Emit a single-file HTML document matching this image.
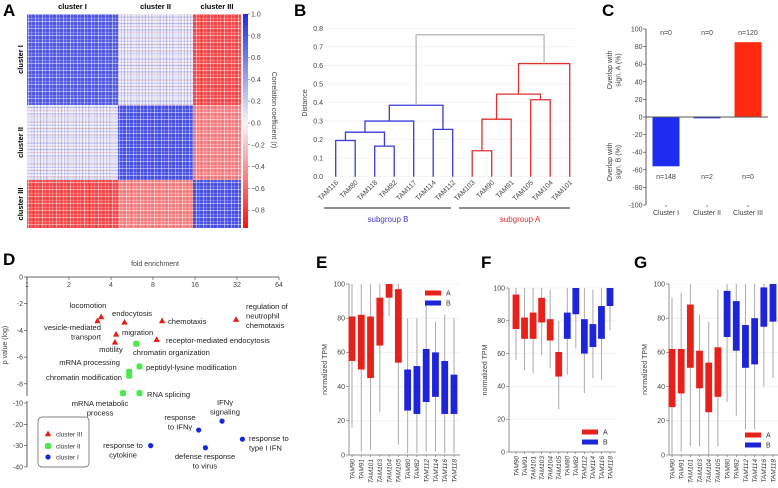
<!DOCTYPE html>
<html><head><meta charset="utf-8">
<style>
html,body{margin:0;padding:0;background:#fff;}
svg{display:block;font-family:"Liberation Sans",Arial,sans-serif;}
.t{font-size:7px;fill:#444;}
.pl{font-size:17px;font-weight:bold;fill:#000;}
</style></head>
<body>
<svg id="fig" width="778" height="488" viewBox="0 0 778 488" xmlns="http://www.w3.org/2000/svg">
<defs>
<pattern id="grid" width="7" height="7" patternUnits="userSpaceOnUse">
<rect x="0" y="0" width="1" height="7" fill="#fff" opacity="0.45"/>
<rect x="3" y="0" width="1" height="7" fill="#fff" opacity="0.2"/>
<rect x="5" y="0" width="1" height="7" fill="#000" opacity="0.06"/>
<rect x="0" y="0" width="7" height="1" fill="#fff" opacity="0.45"/>
<rect x="0" y="4" width="7" height="1" fill="#fff" opacity="0.2"/>
<rect x="0" y="2" width="7" height="1" fill="#000" opacity="0.06"/>
</pattern>
<pattern id="mix" width="6" height="6" patternUnits="userSpaceOnUse">
<rect x="1" y="0" width="1" height="6" fill="#f08080" opacity="0.35"/>
<rect x="4" y="0" width="1" height="6" fill="#8080f0" opacity="0.35"/>
<rect x="0" y="2" width="6" height="1" fill="#f08080" opacity="0.3"/>
<rect x="0" y="5" width="6" height="1" fill="#8080f0" opacity="0.3"/>
</pattern>
<linearGradient id="cbar" x1="0" y1="0" x2="0" y2="1">
<stop offset="0" stop-color="#1f2be6"/><stop offset="0.51" stop-color="#f4f4f8"/><stop offset="1" stop-color="#ff1010"/>
</linearGradient>
</defs>
</svg>
<script>
// ---------- data ----------
const clusterNames = ['cluster I','cluster II','cluster III'];
const clusterSizes = [91, 75, 48];
const blockCorr = [[0.75,0.05,-0.75],[0.05,0.8,-0.5],[-0.75,-0.5,0.8]];
const cbTicks = [1.0,0.8,0.6,0.4,0.2,0.0,-0.2,-0.4,-0.6,-0.8];

const leaves = ['TAM116','TAM80','TAM118','TAM82','TAM117','TAM114','TAM112','TAM103','TAM90','TAM91','TAM105','TAM104','TAM101'];
const mergeLeft  = [0,2,13,15,5,16,7,19,10,20,22,18];
const mergeRight = [1,3,14,4,6,17,8,9,11,21,12,23];
const mergeHeight= [0.195,0.165,0.24,0.30,0.255,0.385,0.14,0.31,0.415,0.445,0.61,0.765];
const mergeGroup = ['B','B','B','B','B','B','A','A','A','A','A','R'];
const distTicks = [0,0.1,0.2,0.3,0.4,0.5,0.6,0.7,0.8];

const cCats = ['Cluster I','Cluster II','Cluster III'];
const cVals = [-56,-1.5,85];
const cNTop = ['n=0','n=0','n=120'];
const cNBot = ['n=148','n=2','n=0'];
const cTicks = [100,80,60,40,20,0,-20,-40,-60,-80,-100];

const dTerms = ['locomotion','vesicle-mediated transport','endocytosis','chemotaxis','regulation of neutrophil chemotaxis','migration','motility','receptor-mediated endocytosis','chromatin organization','peptidyl-lysine modification','mRNA processing','chromatin modification','mRNA metabolic process','RNA splicing','response to cytokine','response to IFNγ','IFNγ signaling','defense response to virus','response to type I IFN'];
const dFold = [3.4,3.2,5.0,9.3,31.5,4.35,4.27,8.5,6.06,6.4,5.4,5.4,4.88,6.4,7.7,17,25,19,35];
const dP = [-3.0,-3.3,-3.4,-3.3,-3.2,-4.3,-4.9,-4.7,-5.0,-6.7,-7.1,-7.4,-8.7,-8.7,-30,-22.7,-18.5,-31,-27];
const dCluster = [3,3,3,3,3,3,3,3,2,2,2,2,2,2,1,1,1,1,1];
const dXTicks = [1,2,4,8,16,32,64];
const dYTicksUp = [0,-2,-4,-6,-8];
const dYTicksLo = [-10,-20,-30,-40];

const boxSamples = ['TAM90','TAM91','TAM101','TAM103','TAM104','TAM105','TAM80','TAM82','TAM112','TAM114','TAM116','TAM118'];
const boxGroup = ['A','A','A','A','A','A','B','B','B','B','B','B'];
const eMin=[16,2,3,25,81,6,1,1,2,2,1,1], eQ1=[55,50,45,64,92,54,26,24,31,34,24,24], eQ3=[81,82,81,92,100,97,50,52,62,60,55,47], eMax=[100,100,100,100,100,100,80,80,90,78,82,80];
const fMin=[56,50,48,59,51,26,47,63,36,45,44,74], fQ1=[75,69,69,79,68,46,69,84,60,64,69,89], fQ3=[96,82,85,94,81,61,85,100,81,78,89,100], fMax=[100,100,100,100,99,80,100,100,100,99,100,100];
const gMin=[0,2,5,5,0,5,31,23,15,15,40,45], gQ1=[28,36,51,39,25,34,69,61,51,53,75,78], gQ3=[62,62,88,61,54,63,96,90,76,80,98,100], gMax=[92,95,100,82,78,97,100,100,100,100,100,100];
const tpmTicks=[0,20,40,60,80,100];

// ---------- helpers ----------
const svg=document.getElementById('fig');
const NS='http://www.w3.org/2000/svg';
function mk(tag,attrs,parent,text){
  const e=document.createElementNS(NS,tag);
  for(const k in attrs) e.setAttribute(k,attrs[k]);
  if(text!==undefined) e.textContent=text;
  (parent||svg).appendChild(e); return e;
}
function grp(name){const g=mk('g',{});
  
  
  return g;}
const RED='#e8201a', BLUE='#1e24d8';

function corrColor(v){
  const w=[244,244,248];
  let c = v>=0 ? [31,43,230] : [255,16,16];
  const t=Math.min(1,Math.abs(v));
  return 'rgb('+c.map((x,i)=>Math.round(w[i]+(x-w[i])*t)).join(',')+')';
}

// ---------- panel A ----------
(function(){
  const g=grp('panel-a-heatmap');
  mk('text',{x:3,y:16,class:'pl'},g,'A');
  const x0=27,y0=14,W=214,H=214,tot=clusterSizes.reduce((a,b)=>a+b,0);
  const off=[0];clusterSizes.forEach((s,i)=>off.push(off[i]+s));
  for(let i=0;i<3;i++)for(let j=0;j<3;j++){
    const bx=x0+off[j]/tot*W, by=y0+off[i]/tot*H, bw=clusterSizes[j]/tot*W, bh=clusterSizes[i]/tot*H;
    const r=mk('rect',{x:bx,y:by,width:bw,height:bh,fill:corrColor(blockCorr[i][j])},g);
    
    
    if(Math.abs(blockCorr[i][j])<0.2) mk('rect',{x:bx,y:by,width:bw,height:bh,fill:'url(#mix)'},g);
  }
  mk('rect',{x:x0,y:y0,width:W,height:H,fill:'url(#grid)'},g);
  for(let i=0;i<3;i++){
    const cx=x0+(off[i]+clusterSizes[i]/2)/tot*W;
    const t=mk('text',{x:cx,y:9,'text-anchor':'middle','font-size':'7.5','font-weight':'bold'},g,clusterNames[i]);
    
    
    const cy=y0+(off[i]+clusterSizes[i]/2)/tot*H;
    const t2=mk('text',{x:0,y:0,'text-anchor':'middle','font-size':'7.5','font-weight':'bold',transform:'translate(23,'+cy+') rotate(-90)'},g,clusterNames[i]);
    
    
  }
  const cb=mk('rect',{x:243,y:14,width:5,height:214,fill:'url(#cbar)'},g);
  
  
  const cy=v=>123-v*109;
  cbTicks.forEach(v=>{
    mk('line',{x1:248,x2:250,y1:cy(v),y2:cy(v),stroke:'#555','stroke-width':0.5},g);
    const t=mk('text',{x:251,y:cy(v)+2.5,class:'t'},g,(v<0?'−':'')+Math.abs(v).toFixed(1));
    
    
  });
  const tl=mk('text',{x:0,y:0,'text-anchor':'middle',class:'t','font-size':'7.5',transform:'translate(272,110) rotate(90)'},g,'Correlation coefficient (r)');
  
  
})();

// ---------- panel B ----------
(function(){
  const g=grp('panel-b-dendrogram');
  mk('text',{x:294,y:16,class:'pl'},g,'B');
  const yv=v=>176.7-v*185.5, xl=i=>335.7+i*19.5;
  distTicks.forEach(v=>{
    mk('line',{x1:325,x2:575,y1:yv(v),y2:yv(v),stroke:'#eee','stroke-width':0.6},g);
    const t=mk('text',{x:323,y:yv(v)+2.5,'text-anchor':'end',class:'t'},g,v.toFixed(1));
    
    
  });
  const yl=mk('text',{x:0,y:0,'text-anchor':'middle',class:'t',transform:'translate(307,103) rotate(-90)'},g,'Distance');
  
  
  const nx=[],nh=[];
  leaves.forEach((n,i)=>{nx.push(xl(i));nh.push(0);
    const t=mk('text',{x:0,y:0,'text-anchor':'end',class:'t','font-size':'7.5',transform:'translate('+(xl(i)+3)+',183) rotate(-45)'},g,n);
    
    
  });
  mergeLeft.forEach((l,k)=>{
    const r=mergeRight[k],h=mergeHeight[k];
    const col=mergeGroup[k]==='A'?'#e03030':mergeGroup[k]==='B'?'#3a3ad8':'#b8b8b8';
    const p=mk('path',{d:'M'+nx[l]+','+yv(nh[l])+'V'+yv(h)+'H'+nx[r]+'V'+yv(nh[r]),fill:'none',stroke:col,'stroke-width':1.3},g);
    
    
    nx.push((nx[l]+nx[r])/2);nh.push(h);
  });
  mk('line',{x1:324,x2:451,y1:208,y2:208,stroke:'#222','stroke-width':1},g);
  mk('line',{x1:459,x2:570,y1:208,y2:208,stroke:'#222','stroke-width':1},g);
  const sb=mk('text',{x:388,y:222,'text-anchor':'middle','font-size':'8',fill:'#3a3ad8'},g,'subgroup B');
  
  
  const sa=mk('text',{x:520,y:222,'text-anchor':'middle','font-size':'8',fill:'#e03030'},g,'subgroup A');
  
  
})();

// ---------- panel C ----------
(function(){
  const g=grp('panel-c-bars');
  mk('text',{x:602,y:16,class:'pl'},g,'C');
  const AX=646;
  const yv=v=>117-v*0.88, cx=i=>666+i*41;
  mk('line',{x1:AX,x2:AX,y1:29,y2:205,stroke:'#333','stroke-width':0.8},g);
  cTicks.forEach(v=>{
    mk('line',{x1:AX-3,x2:AX,y1:yv(v),y2:yv(v),stroke:'#333','stroke-width':0.6},g);
    const t=mk('text',{x:AX-3.5,y:yv(v)+2.5,'text-anchor':'end',class:'t'},g,v);
    
    
  });
  cVals.forEach((v,i)=>{
    const b=mk('rect',{x:cx(i)-13.5,y:Math.min(yv(v),yv(0)),width:27,height:Math.abs(yv(v)-yv(0)),fill:v<0?'#1e2cf0':'#ff2a10'},g);
    
    
    const t=mk('text',{x:cx(i),y:215,'text-anchor':'middle',class:'t','font-size':'7.5'},g,cCats[i]);
    
    
    mk('line',{x1:cx(i),x2:cx(i),y1:205,y2:207,stroke:'#333','stroke-width':0.6},g);
    const a=mk('text',{x:cx(i),y:35,'text-anchor':'middle',class:'t'},g,cNTop[i]);
    
    
    const bb=mk('text',{x:cx(i),y:179,'text-anchor':'middle',class:'t'},g,cNBot[i]);
    
    
  });
  mk('line',{x1:AX,x2:768,y1:yv(0),y2:yv(0),stroke:'#555','stroke-width':1},g);
  [['Overlap with','sign. A (%)',70],['Overlap with','sign. B (%)',162]].forEach(l=>{
    const t=mk('text',{x:0,y:0,'text-anchor':'middle',class:'t','font-size':'7.5',transform:'translate(612,'+l[2]+') rotate(-90)'},g);
    
    
    mk('tspan',{x:0,dy:0},t,l[0]);mk('tspan',{x:0,dy:8.5},t,l[1]);
  });
})();

// ---------- panel D ----------
(function(){
  const g=grp('panel-d-scatter');
  mk('text',{x:3,y:265,class:'pl'},g,'D');
  const xv=f=>27+42*Math.log2(f);
  const yf=p=>p>-9.5?277+13.35*(-p):403+(-p-10)*2.13;
  const xt=mk('text',{x:155,y:266,'text-anchor':'middle',class:'t','font-size':'7.5'},g,'fold enrichment');
  
  
  mk('line',{x1:27,x2:279,y1:277,y2:277,stroke:'#333','stroke-width':0.8},g);
  dXTicks.forEach(f=>{
    mk('line',{x1:xv(f),x2:xv(f),y1:277,y2:280,stroke:'#333','stroke-width':0.6},g);
    const t=mk('text',{x:xv(f),y:287,'text-anchor':'middle',class:'t'},g,f);
    
    
  });
  mk('line',{x1:27,x2:27,y1:277,y2:396,stroke:'#333','stroke-width':0.8},g);
  mk('line',{x1:27,x2:27,y1:401,y2:467,stroke:'#333','stroke-width':0.8},g);
  dYTicksUp.concat(dYTicksLo).forEach(v=>{
    mk('line',{x1:24,x2:27,y1:yf(v),y2:yf(v),stroke:'#333','stroke-width':0.6},g);
    const t=mk('text',{x:23,y:yf(v)+2.5,'text-anchor':'end',class:'t'},g,v);
    
    
  });
  const yl=mk('text',{x:0,y:0,'text-anchor':'middle',class:'t','font-size':'7.5',transform:'translate(7,345) rotate(-90)'},g,'p value (log)');
  
  
  function marker(c,x,y,parent){
    if(c===3) return mk('path',{d:'M'+x+','+(y-3.5)+'L'+(x+3.2)+','+(y+2.2)+'L'+(x-3.2)+','+(y+2.2)+'Z',fill:'#e82010'},parent);
    if(c===2) return mk('rect',{x:x-3,y:y-3,width:6,height:6,rx:2,fill:'#4de84d'},parent);
    return mk('circle',{cx:x,cy:y,r:2.6,fill:'#1428e0'},parent);
  }
  dFold.forEach((f,i)=>{
    const m=marker(dCluster[i],xv(f),yf(dP[i]),g);
    
    
  });
  const ann=[
    [['locomotion'],88,308,'middle'],
    [['vesicle-mediated','transport'],101,330,'end'],
    [['endocytosis'],112,316,'start'],
    [['chemotaxis'],168,324,'start'],
    [['regulation of','neutrophil','chemotaxis'],246,309,'start'],
    [['migration'],122,335,'start'],
    [['motility'],111,352,'middle'],
    [['receptor-mediated endocytosis'],166,343,'start'],
    [['chromatin organization'],133,355,'start'],
    [['mRNA processing'],120,365,'end'],
    [['peptidyl-lysine modification'],146,370,'start'],
    [['chromatin modification'],122,380,'end'],
    [['RNA splicing'],147,397,'start'],
    [['mRNA metabolic','process'],100,406,'middle'],
    [['IFNγ','signaling'],225,405,'middle'],
    [['response','to IFNγ'],180,420,'middle'],
    [['response to','cytokine'],123,448,'middle'],
    [['defense response','to virus'],205,459,'middle'],
    [['response to','type I IFN'],249,441,'start']
  ];
  ann.forEach(a=>{
    const t=mk('text',{x:a[1],y:a[2],'text-anchor':a[3],'font-size':'7.6',fill:'#222'},g);
    
    
    a[0].forEach((s,k)=>mk('tspan',{x:a[1],dy:k?9.5:0},t,s));
  });
  const lg=grp('legend-d');g.appendChild(lg);
  mk('rect',{x:38,y:417,width:51,height:50,rx:4,fill:'#fff',stroke:'#555','stroke-width':0.7},lg);
  [[3,'cluster III',434],[2,'cluster II',446],[1,'cluster I',457]].forEach(e=>{
    marker(e[0],48,e[2],lg);
    const t=mk('text',{x:56,y:e[2]+2.5,'font-size':'6.5',fill:'#333'},lg,e[1]);
    
    
  });
})();

// ---------- panels E,F,G ----------
function boxPanel(letter,lx,ax,y100,y0,c0,c1,mn,q1,q3,mx,legX,legY){
  const g=grp('panel-'+letter.toLowerCase()+'-boxplot');
  mk('text',{x:lx,y:268,class:'pl'},g,letter);
  const yv=v=>y0-(y0-y100)*v/100;
  const xc=i=>c0+(c1-c0)*i/(boxSamples.length-1);
  tpmTicks.forEach(v=>{
    if(v>0) mk('line',{x1:ax,x2:c1+6,y1:yv(v),y2:yv(v),stroke:'#ececec','stroke-width':0.6},g);
    mk('line',{x1:ax-3,x2:ax,y1:yv(v),y2:yv(v),stroke:'#666','stroke-width':0.6},g);
    const t=mk('text',{x:ax-4,y:yv(v)+2.3,'text-anchor':'end',class:'t','font-size':'6.5'},g,v);
    
    
  });
  mk('line',{x1:ax,x2:ax,y1:y100,y2:y0,stroke:'#666','stroke-width':0.7},g);
  mk('line',{x1:ax,x2:c1+6,y1:y0,y2:y0,stroke:'#666','stroke-width':0.7},g);
  const yl=mk('text',{x:0,y:0,'text-anchor':'middle',class:'t','font-size':'6.5',transform:'translate('+(ax-22)+','+((y0+y100)/2)+') rotate(-90)'},g,'normalized TPM');
  
  
  boxSamples.forEach((s,i)=>{
    const x=xc(i), col=boxGroup[i]==='A'?RED:BLUE;
    mk('line',{x1:x,x2:x,y1:yv(mx[i]),y2:yv(mn[i]),stroke:'#aaa','stroke-width':1},g);
    const b=mk('rect',{x:x-3.4,y:yv(q3[i]),width:6.8,height:yv(q1[i])-yv(q3[i]),fill:col},g);
    
    
    mk('line',{x1:x,x2:x,y1:y0,y2:y0+2,stroke:'#666','stroke-width':0.6},g);
    const t=mk('text',{x:0,y:0,'text-anchor':'end','font-size':'6.5','font-style':'italic',fill:'#333',transform:'translate('+(x+2.3)+','+(y0+4)+') rotate(-90)'},g,s);
    
    
  });
  [['A',RED,0],['B',BLUE,10]].forEach(e=>{
    const r=mk('rect',{x:legX,y:legY+e[2]-2.5,width:16,height:5,fill:e[1]},g);
    
    
    const t=mk('text',{x:legX+21,y:legY+e[2]+2.5,'font-size':'7',fill:'#333'},g,e[0]);
    
    
  });
}
boxPanel('E',316,349,284,455,352,454,eMin,eQ1,eQ3,eMax,425,293);
boxPanel('F',481,509,288,452,516,610,fMin,fQ1,fQ3,fMax,582,432);
boxPanel('G',634,669,284,455,672,773,gMin,gQ1,gQ3,gMax,745,435);
</script>
</body></html>
